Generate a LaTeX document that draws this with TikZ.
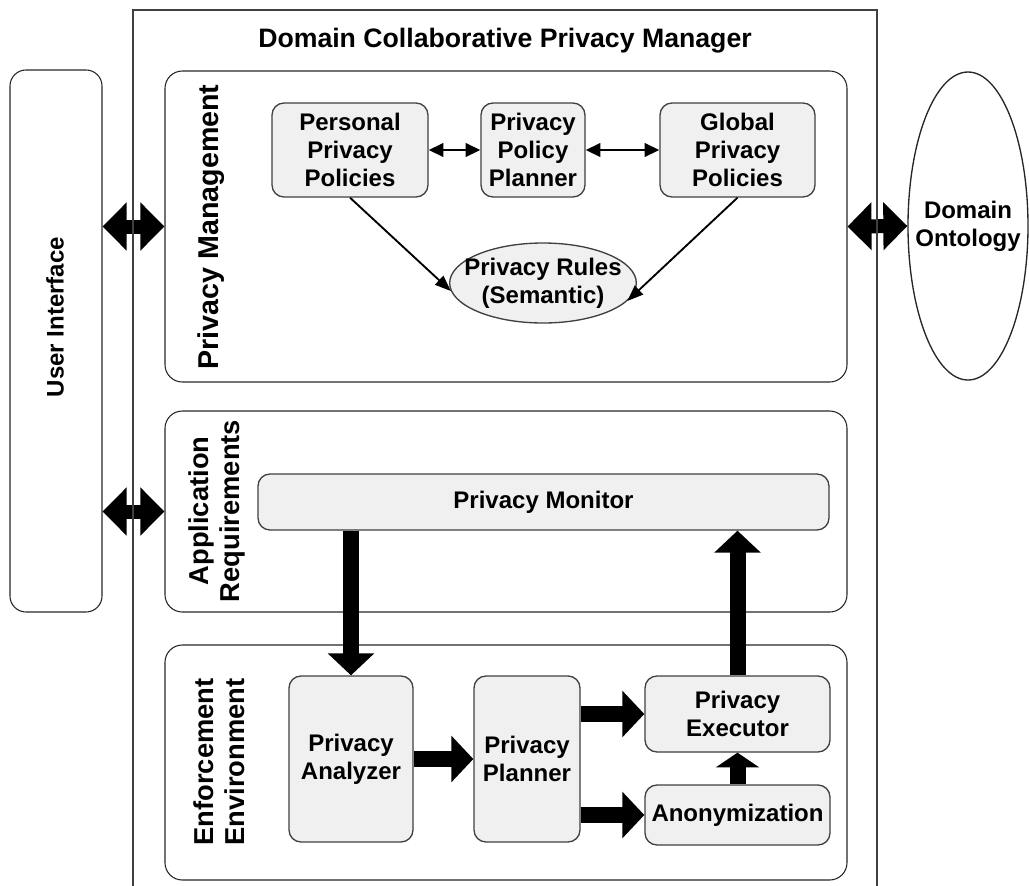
\documentclass[tikz,border=0pt]{standalone}
\usepackage{fontspec}
\setmainfont{Liberation Sans}
\usetikzlibrary{arrows.meta,shapes.geometric}

\tikzset{
  panel/.style={draw=black!85, line width=0.8pt, rounded corners=13pt, inner sep=0pt},
  block/.style={draw=black!75, fill=black!6, line width=1pt, rounded corners=9pt, align=center, inner sep=0pt},
  oval/.style={ellipse, line width=1pt, inner sep=0pt},
  sidetext/.style={rotate=90, align=center, font=\bfseries\fontsize{20.5}{23}\selectfont},
  fatarrow/.style={line width=12pt, -{Triangle[length=16.5pt,width=34pt]}},
  fatshort/.style={line width=12pt, -{Triangle[length=11pt,width=32pt]}},
  fatdouble/.style={line width=10.5pt, {Triangle[length=18pt,width=35pt]}-{Triangle[length=18pt,width=35pt]}},
  slimdouble/.style={line width=2.2pt, {Triangle[length=11pt,width=10pt]}-{Triangle[length=11pt,width=10pt]}},
  feedline/.style={line width=1.4pt, -{Triangle[length=12pt,width=9pt]}},
}

\begin{document}
\begin{tikzpicture}[x=0.75pt,y=0.75pt,yscale=-1,xscale=1,font=\bfseries\fontsize{18}{21}\selectfont]
\useasboundingbox (0,0) rectangle (1029,886);

% outside parts
\node[panel, rounded corners=12pt, minimum width=69pt, minimum height=406.5pt] (ui) at (56,341) {};
\node[rotate=90] (uitext) at (55,317) {User Interface};
\node[oval, draw=black!85, minimum width=90pt, minimum height=231pt] (onto) at (968,226) {};
\node[align=center] (ontotext) at (onto.center) {Domain\\Ontology};

% panels
\node[panel, minimum width=511.5pt, minimum height=233.25pt] (pm) at (506,226.5) {};
\node[panel, minimum width=511.5pt, minimum height=150.75pt] (ar) at (506,511.5) {};
\node[panel, minimum width=511.5pt, minimum height=176.25pt] (ee) at (506,762.5) {};
\node[sidetext, font=\bfseries\fontsize{21.5}{23}\selectfont] (pmtext) at (211,227) {Privacy Management};
\node[sidetext] (artext) at (217,511) {Application\\Requirements};
\node[sidetext] (eetext) at (219,762) {Enforcement\\Environment};

% privacy management
\node[block, minimum width=117pt, minimum height=70.5pt] (ppp) at (350,150) {Personal\\Privacy\\Policies};
\node[block, minimum width=78pt, minimum height=70.5pt] (ppl) at (533,150) {Privacy\\Policy\\Planner};
\node[block, minimum width=116.25pt, minimum height=70.5pt] (gpp) at (737.5,150) {Global\\Privacy\\Policies};
\node[oval, draw=black!75, fill=black!6, minimum width=140pt, minimum height=60pt] (rules) at (543,283) {};
\node[align=center] (rulestext) at (rules.center) {Privacy Rules\\(Semantic)};

% requirements and enforcement
\node[block, minimum width=428.25pt, minimum height=42pt] (monitor) at (543.5,502) {Privacy Monitor};
\node[block, minimum width=93pt, minimum height=124.5pt] (analyzer) at (351,759) {Privacy\\Analyzer};
\node[block, minimum width=79.5pt, minimum height=124.5pt] (planner) at (527,759) {Privacy\\Planner};
\node[block, minimum width=138.75pt, minimum height=57pt] (executor) at (737.5,714) {Privacy\\Executor};
\node[block, minimum width=138.75pt, minimum height=45pt] (anon) at (737.5,815) {Anonymization};

% connectors
\draw[slimdouble] (ppp.east) -- (ppl.west);
\draw[slimdouble] (ppl.east) -- (gpp.west);
\draw[feedline] (ppp.south) -- (rules.185);
\draw[feedline] (gpp.south) -- (rules.-12);

\draw[fatdouble] (ui.east |- pm.west) -- (pm.west);
\draw[fatdouble] (ui.east |- ar.west) -- (ar.west);
\draw[fatdouble] (pm.east) -- (onto.west);

\draw[fatarrow] (analyzer.north |- monitor.south) -- (analyzer.north);
\draw[fatarrow] (executor.north) -- (executor.north |- monitor.south);
\draw[fatarrow] (analyzer.east) -- (planner.west);
\draw[fatarrow] (planner.east |- executor) -- (executor.west);
\draw[fatarrow] (planner.east |- anon) -- (anon.west);
\draw[fatshort] (anon.north) -- (executor.south);

% frame
\draw[black!75, line width=1pt] (133,886) -- (133,10) -- (877,10) -- (877,886);
\node[font=\bfseries\fontsize{20}{24}\selectfont] (title) at (505,41) {Domain Collaborative Privacy Manager};
\end{tikzpicture}
\end{document}
